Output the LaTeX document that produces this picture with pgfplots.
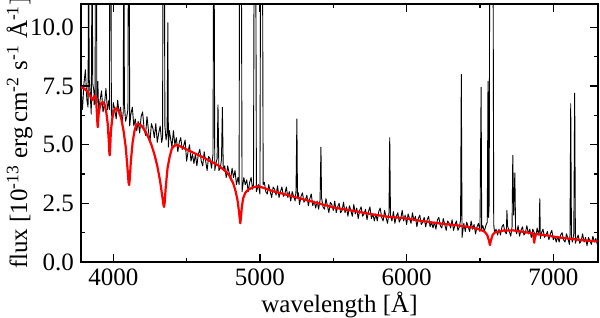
\documentclass[border=0pt]{standalone}
\usepackage{fontspec}
\setmainfont{Liberation Serif}
\usepackage{pgfplots}
\usepackage{pgfplotstable}
\pgfplotsset{compat=1.18}

\pgfplotstableread{
x y
3780 7.4
3790 6.5
3800 7.6
3810 8.2
3820 6.9
3828 6.6
3832 14
3836 7.8
3844 7.0
3850 6.3
3856 14
3860 7.6
3868 7.3
3870 6.7
3876 7.0
3879 15
3885 15
3888 6.8
3895 7.7
3900 6.4
3910 6.9
3920 7.3
3930 6.4
3940 6.7
3950 7.4
3960 6.5
3970 6.9
3974 6.5
3977 16
3984 16
3987 6.3
3995 6.1
4000 6.8
4010 6.5
4020 6.1
4030 6.9
4040 6.3
4050 6.6
4060 5.9
4068 6.4
4072 15
4076 6.7
4084 6.0
4092 6.2
4100 6.5
4104 16
4108 16
4112 5.8
4120 6.3
4130 6.6
4140 5.8
4150 6.1
4160 5.6
4170 6.0
4180 5.5
4190 6.2
4200 6.4
4210 5.7
4220 5.4
4230 6.2
4240 5.6
4250 5.1
4260 5.9
4270 5.7
4280 5.3
4290 5.9
4300 5.1
4310 5.5
4320 5.8
4330 5.1
4336 5.3
4341 17
4347 17
4352 5.8
4360 5.2
4367 5.5
4372 10.2
4376 4.9
4382 5.6
4390 5.3
4400 4.9
4410 5.6
4420 5.0
4430 5.3
4440 4.7
4450 5.1
4460 5.3
4470 4.8
4480 4.95
4490 5.2
4500 4.3
4510 4.7
4520 5.0
4530 4.3
4540 4.6
4550 4.2
4560 4.6
4570 4.1
4580 4.6
4590 4.8
4600 4.3
4610 4.1
4620 4.7
4630 4.3
4640 3.9
4650 4.5
4660 4.4
4670 4.0
4680 4.6
4686 17
4692 3.9
4700 4.2
4708 4.4
4714 6.7
4720 3.9
4730 4.0
4738 4.4
4744 6.6
4750 3.9
4760 4.1
4770 3.6
4780 4.1
4790 3.8
4800 3.5
4810 4.0
4820 3.6
4830 3.9
4840 3.3
4850 3.6
4858 3.3
4862 17
4872 17
4878 3.0
4890 3.6
4900 3.3
4910 3.5
4920 3.0
4930 3.4
4940 3.6
4950 3.1
4956 3.3
4962 17
4970 17
4976 3.0
4990 3.3
5000 2.9
5006 17
5016 17
5022 3.3
5030 3.4
5040 3.0
5050 2.9
5060 3.3
5070 3.0
5080 2.75
5090 3.2
5100 3.1
5110 2.85
5120 3.25
5130 2.75
5140 3.0
5150 3.2
5160 2.8
5170 2.9
5180 3.2
5190 2.75
5200 3.0
5210 2.6
5220 3.0
5230 2.8
5240 2.6
5246 3.05
5252 6.1
5256 2.7
5262 2.95
5270 2.45
5280 2.8
5290 2.95
5300 2.55
5310 2.65
5320 2.85
5330 2.4
5340 2.7
5350 2.9
5360 2.4
5370 2.6
5380 2.3
5390 2.6
5400 2.25
5410 2.65
5416 4.9
5420 2.75
5430 2.35
5440 2.25
5450 2.7
5460 2.4
5470 2.1
5480 2.55
5490 2.45
5500 2.2
5510 2.6
5520 2.1
5530 2.35
5540 2.5
5550 2.1
5560 2.2
5570 2.55
5580 2.1
5590 2.35
5600 1.95
5610 2.4
5620 2.2
5630 1.95
5640 2.45
5650 2.05
5660 2.3
5670 1.85
5680 2.2
5690 2.35
5700 1.95
5710 2.05
5720 2.25
5730 1.8
5740 2.15
5750 2.35
5760 1.85
5770 2.05
5780 1.75
5790 2.05
5800 1.75
5810 2.15
5820 2.3
5830 1.9
5840 1.75
5850 2.2
5860 1.9
5870 1.65
5880 2.1
5885 5.3
5890 2.0
5900 1.75
5910 2.15
5920 1.65
5930 1.95
5940 2.1
5950 1.7
5960 1.85
5970 2.2
5980 1.75
5990 2.0
6000 1.6
6010 2.05
6020 1.85
6030 1.65
6040 2.1
6050 1.75
6060 1.95
6070 1.5
6080 1.85
6090 2.0
6100 1.6
6110 1.7
6120 1.9
6130 1.5
6140 1.8
6150 1.95
6160 1.5
6170 1.7
6180 1.45
6190 1.7
6200 1.4
6210 1.8
6220 1.9
6230 1.55
6240 1.45
6250 1.85
6260 1.6
6270 1.35
6280 1.75
6290 1.65
6300 1.45
6310 1.8
6320 1.35
6330 1.6
6340 1.75
6350 1.35
6360 1.5
6368 1.8
6373 8.0
6378 1.05
6390 1.65
6400 1.3
6410 1.7
6420 1.5
6430 1.3
6440 1.75
6450 1.4
6460 1.6
6470 1.2
6480 1.5
6490 1.65
6500 1.3
6508 7.45
6512 1.4
6520 1.55
6530 1.3
6540 1.55
6550 1.7
6555 7.7
6559 1.9
6563 2.5
6568 17
6588 17
6594 1.6
6600 1.25
6610 1.4
6620 1.15
6630 1.4
6640 1.15
6650 1.5
6660 1.6
6670 1.3
6680 1.2
6684 2.2
6688 1.55
6700 1.3
6710 1.1
6719 1.5
6724 4.55
6730 2.0
6738 3.8
6743 1.4
6750 1.2
6760 1.55
6770 1.1
6780 1.35
6790 1.5
6800 1.15
6810 1.25
6820 1.55
6830 1.2
6840 1.4
6850 1.05
6860 1.4
6870 1.25
6880 1.05
6890 1.45
6900 1.15
6904 1.35
6908 2.7
6912 1.0
6920 1.25
6930 1.4
6940 1.05
6950 1.15
6960 1.3
6970 0.95
6980 1.2
6990 1.35
7000 0.95
7010 1.1
7020 0.85
7030 1.1
7040 0.85
7050 1.15
7060 1.25
7070 0.95
7080 0.85
7090 1.2
7100 1.0
7110 0.75
7114 1.15
7119 6.75
7124 1.05
7130 0.85
7140 1.2
7146 7.2
7151 0.8
7160 1.0
7170 1.15
7180 0.8
7190 0.9
7200 1.2
7210 0.85
7220 1.05
7230 0.7
7240 1.05
7250 0.9
7260 0.75
7270 1.1
7280 0.85
7290 1.0
7300 0.75
}\obs

\pgfplotstableread{
x y
3780 7.45
3800 7.4
3820 7.3
3845 7.05
3852 6.95
3858 6.9
3864 6.98
3872 7.08
3878 7.1
3884 6.8
3889 6.3
3892 5.9
3894 5.75
3896 5.9
3900 6.3
3908 6.6
3918 6.78
3930 6.82
3942 6.7
3952 6.4
3962 5.9
3970 5.1
3974 4.6
3976 4.55
3979 4.9
3984 5.6
3994 6.15
4005 6.45
4015 6.55
4025 6.55
4040 6.4
4055 6.1
4070 5.6
4085 4.9
4097 4.0
4104 3.4
4108 3.28
4112 3.5
4120 4.3
4132 5.1
4145 5.6
4158 5.85
4170 5.9
4185 5.85
4200 5.75
4220 5.55
4240 5.3
4260 5.0
4280 4.6
4300 4.1
4318 3.5
4332 2.9
4342 2.45
4346 2.35
4350 2.5
4358 3.2
4370 4.0
4385 4.5
4400 4.85
4420 4.97
4440 4.98
4460 4.92
4500 4.8
4556 4.63
4600 4.5
4671 4.27
4720 4.1
4760 3.9
4790 3.7
4818 3.35
4835 3.0
4848 2.6
4858 2.1
4863 1.8
4866 1.65
4870 1.85
4876 2.3
4885 2.7
4900 2.95
4920 3.08
4950 3.18
4988 3.23
5030 3.15
5098 3.0
5146 2.93
5250 2.75
5400 2.5
5505 2.32
5620 2.2
5750 2.05
5871 1.93
6000 1.86
6100 1.75
6230 1.64
6350 1.56
6454 1.46
6500 1.38
6530 1.3
6550 1.15
6562 0.9
6568 0.72
6574 0.9
6586 1.15
6600 1.25
6624 1.3
6660 1.34
6725 1.35
6800 1.28
6860 1.22
6866 1.05
6870 0.82
6874 1.0
6880 1.2
6950 1.14
7024 1.06
7100 1.0
7200 0.93
7300 0.88
}\model

\begin{document}
\begin{tikzpicture}
\begin{axis}[
  scale only axis,
  width=258.5pt, height=129pt,
  xmin=3780, xmax=7305, ymin=0, ymax=11,
  xtick={4000,5000,6000,7000},
  minor xtick={4500,5500,6500},
  ytick={0,2.5,5,7.5,10},
  minor ytick={1.25,3.75,6.25,8.75},
  yticklabel style={/pgf/number format/.cd,fixed,fixed zerofill,precision=1},
  xticklabel style={/pgf/number format/.cd,set thousands separator={}},
  /pgf/number format/assume math mode=true,
  tick label style={font=\fontsize{12.5}{14}\selectfont},
  label style={font=\fontsize{12.5}{14}\selectfont},
  tick align=inside,
  major tick length=4pt, minor tick length=2.2pt,
  every tick/.style={black, line width=0.6pt},
  axis line style={line width=0.8pt},
  xlabel={wavelength [Å]},
  ylabel={flux [10\textsuperscript{-13} erg\,cm\textsuperscript{-2} s\textsuperscript{-1} Å\textsuperscript{-1}]},
  xlabel style={yshift=4pt},
  ylabel style={yshift=-8pt},
  clip=true,
]
\addplot[black, line width=0.45pt, line join=round] table[x=x,y=y] {\obs};
\addplot[red, line width=1.1pt, line join=round] table[x=x,y=y] {\model};
\end{axis}
\pgfresetboundingbox
\path ([shift={(-40.5pt,-27.5pt)}]current axis.south west) rectangle ([shift={(1pt,2pt)}]current axis.north east);
\end{tikzpicture}
\end{document}
